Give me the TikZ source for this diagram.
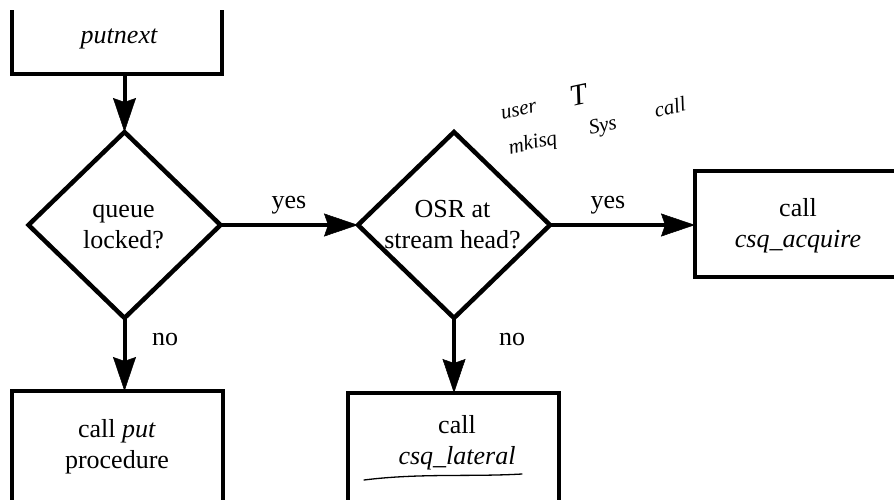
\documentclass[tikz,border=0pt]{standalone}
\usepackage{fontspec}
\setmainfont{Liberation Serif}
\usetikzlibrary{arrows.meta,shapes.geometric}

\begin{document}
\begin{tikzpicture}[x=1pt,y=-1pt,
  lbl/.style={font=\fontsize{26}{31}\selectfont, inner sep=0pt, align=center},
  dec/.style={draw, shape=diamond, line width=4.5pt, minimum width=192pt, minimum height=186pt, inner sep=0pt, outer sep=0pt},
  boxshape/.style={draw, rectangle, line width=4pt, inner sep=0pt, outer sep=0pt},
  arr/.style={line width=4pt, -{Stealth[length=34pt,width=23pt,inset=4pt,line width=0.5pt]}},
  hand/.style={font=\itshape\fontsize{21}{21}\selectfont, inner sep=0pt, rotate=12},
  pen/.style={line width=1.3pt, line cap=round}
]
\useasboundingbox (0,0) rectangle (894,499);
\clip (0,0) rectangle (894,499);

% top box (cut off at the top of the scan)
\begin{scope}
  \clip (0,10) rectangle (894,499);
  \node[boxshape, minimum width=210pt, minimum height=134pt] (tb) at (117,7) {};
\end{scope}
\node[lbl] (tbt) at (119,36.8) {\strut\itshape putnext};

% decisions
\node[dec] (d1) at (124.5,225) {};
\node[lbl] (d1t) at (123.5,226.3) {\strut queue\\\strut locked?};
\node[dec] (d2) at (454,225) {};
\node[lbl] (d2t) at (452.5,226.3) {\strut OSR at\\\strut stream head?};

% action boxes (cut off by the scan edges)
\node[boxshape, minimum width=211pt, minimum height=169pt] (bl) at (117.5,475.5) {};
\node[lbl] (blt) at (117,446.3) {\strut call \textit{put}\\\strut procedure};
\node[boxshape, minimum width=211pt, minimum height=167pt] (bm) at (453.5,476.5) {};
\node[lbl] (bmt) at (457,442.8) {\strut call\\\strut \textit{csq\_lateral}};
\node[boxshape, minimum width=265pt, minimum height=106pt] (rb) at (827.5,224) {};
\node[lbl] (rbt) at (798,225.8) {\strut call\\\strut \textit{csq\_acquire}};

% connectors
\draw[arr] (d1.north |- tb.south) -- (d1.north);
\draw[arr] (d1.east) -- (d2.west);
\draw[arr] (d2.east) -- (d2.east -| rb.west);
\draw[arr] (d1.south) -- (d1.south |- bl.north);
\draw[arr] (d2.south) -- (d2.south |- bm.north);

% connector labels
\node[lbl] (y1) at (289,201.8) {\strut yes};
\node[lbl] (y2) at (608,201.8) {\strut yes};
\node[lbl] (n1) at (165,338.8) {\strut no};
\node[lbl] (n2) at (512,338.8) {\strut no};

% handwritten notes
\node[hand] (h1) at (519,111) {user};
\node[hand, font=\itshape\fontsize{30}{30}\selectfont] (h2) at (579,95) {T};
\node[hand] (h3) at (533,144) {mkisq};
\node[hand] (h4) at (603,127) {Sys};
\node[hand] (h5) at (670,107) {call};
\draw[pen] (364,480) .. controls (420,473) and (470,477) .. (522,474);
\end{tikzpicture}
\end{document}
